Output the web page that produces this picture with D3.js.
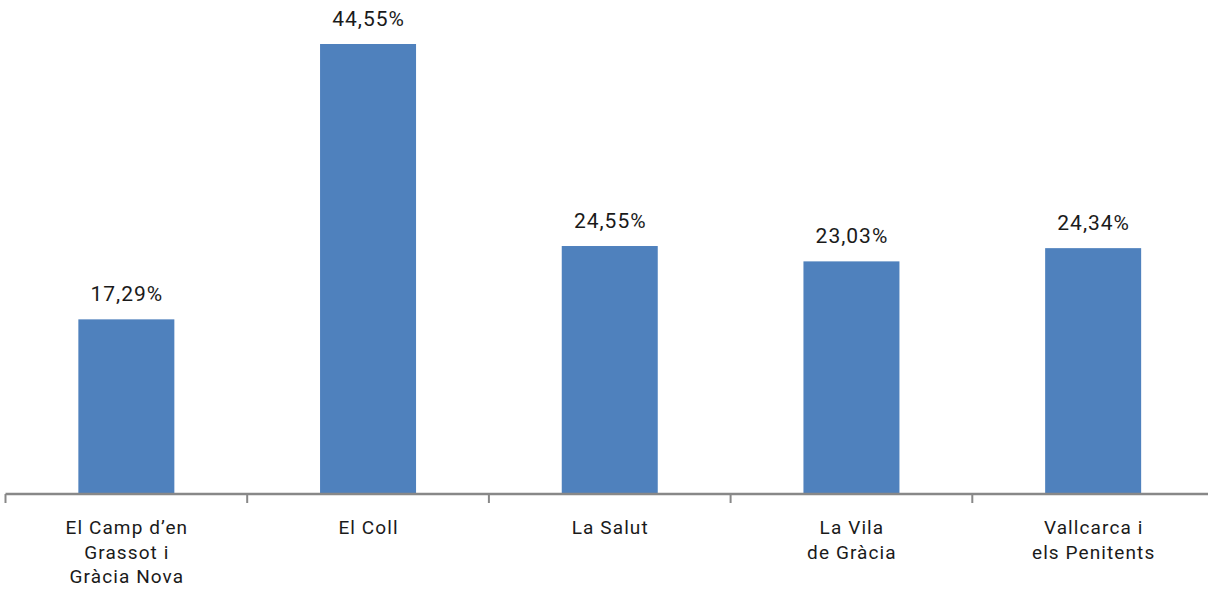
<!DOCTYPE html>
<html><head><meta charset="utf-8">
<script src="https://cdn.jsdelivr.net/npm/d3@7"></script>
<style>body{margin:0;background:#fff}svg{display:block}</style>
</head><body>
<script>
const categories = [["El Camp d’en","Grassot i","Gràcia Nova"],["El Coll"],["La Salut"],["La Vila","de Gràcia"],["Vallcarca i","els Penitents"]];
const values = [17.29, 44.55, 24.55, 23.03, 24.34];
const valueLabels = ["17,29%","44,55%","24,55%","23,03%","24,34%"];

const W = 1208, H = 593;
const svg = d3.select("body").append("svg").attr("width", W).attr("height", H);
const ids = d3.range(values.length);
const xb = d3.scaleBand().domain(ids).range([5.5, 1214]);
const y = d3.scaleLinear().domain([0, 44.55]).range([494, 44]);
const font = "Roboto, sans-serif";
const cx = i => xb(i) + xb.bandwidth()/2;

svg.selectAll("rect.bar").data(values).join("rect")
  .attr("x", (d,i) => cx(i) - 48)
  .attr("width", 96)
  .attr("y", d => y(d)).attr("height", d => y(0) - y(d))
  .attr("fill", "#4F81BD");

svg.selectAll("text.val").data(values).join("text")
  .attr("x", (d,i) => cx(i) + 0.5)
  .attr("y", d => y(d) - 18.5)
  .attr("text-anchor", "middle")
  .attr("font-family", font).attr("font-size", 21).attr("letter-spacing", 1).attr("fill", "#1a1a1a")
  .text((d,i) => valueLabels[i]);

const axis = svg.append("g").attr("transform", "translate(0,494)");
axis.append("line").attr("x1", 5.5).attr("x2", 1214).attr("stroke", "#888").attr("stroke-width", 2.5);
axis.selectAll("line.tick").data(d3.range(values.length + 1)).join("line")
  .attr("x1", i => 5.5 + i * xb.bandwidth()).attr("x2", i => 5.5 + i * xb.bandwidth())
  .attr("y1", 0).attr("y2", 9).attr("stroke", "#888").attr("stroke-width", 2);

categories.forEach((lines, i) => {
  const t = svg.append("text").attr("text-anchor", "middle")
    .attr("font-family", font).attr("font-size", 19).attr("letter-spacing", 1.1).attr("fill", "#1a1a1a");
  lines.forEach((l, j) => {
    t.append("tspan").attr("x", cx(i) + 0.5).attr("y", 534 + j * 24.5).text(l);
  });
});
</script>
</body></html>
